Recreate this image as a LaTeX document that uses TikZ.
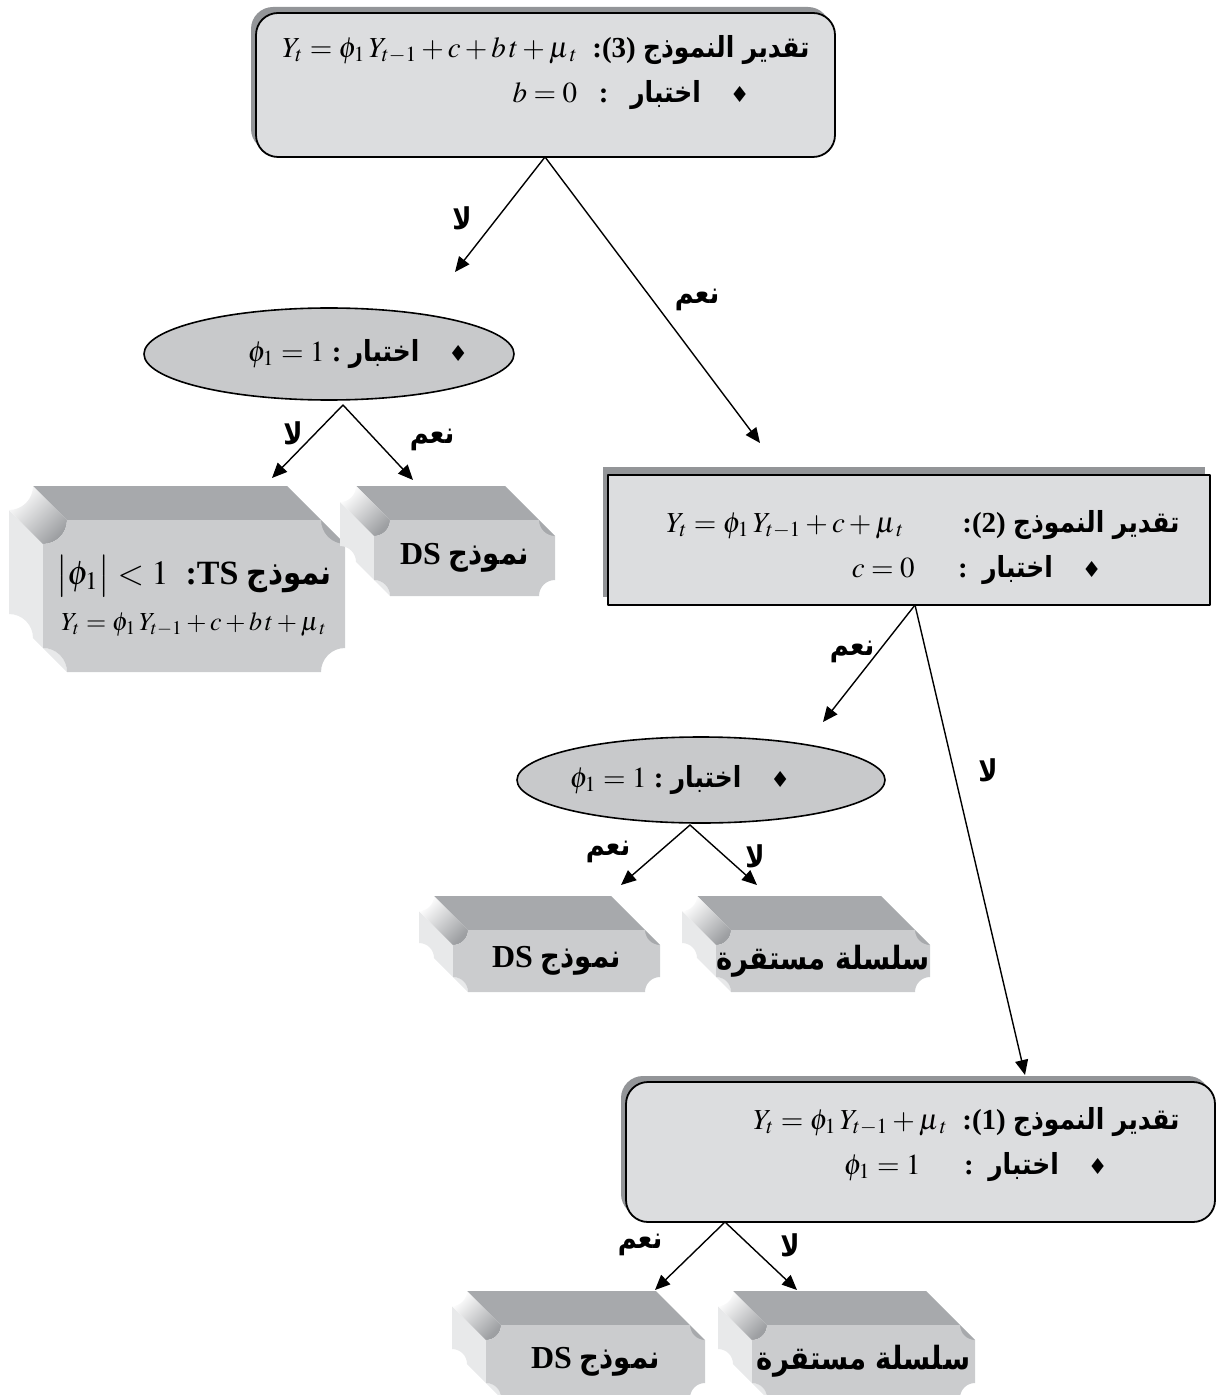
\documentclass[tikz,border=0pt]{standalone}
\usepackage{mathptmx}
\usepackage{fontspec}
\setmainfont{Liberation Serif}
\newfontfamily\arabicfont[Script=Arabic,FakeStretch=0.86]{DejaVu Sans}
\newfontfamily\symfont{DejaVu Sans}
\TeXXeTstate=1
\usetikzlibrary{arrows.meta}
\usetikzlibrary{shapes.geometric}
\usetikzlibrary{shadows}
\usetikzlibrary{positioning}

\definecolor{boxfill}{HTML}{DCDDDF}
\definecolor{shadowgray}{HTML}{939598}
\definecolor{ovalfill}{HTML}{C8C9CB}
\definecolor{topgray}{HTML}{A7A9AC}
\definecolor{sidegray}{HTML}{E8E9EA}
\definecolor{frontgray}{HTML}{CBCCCE}
\definecolor{cornerdark}{HTML}{9D9FA2}

\newcommand{\ar}[1]{{\arabicfont\bfseries\beginR #1\endR}}
\newcommand{\dia}{{\symfont\fontsize{11}{12}\selectfont ♦}}
\newcommand{\mut}{\mu_{\mkern3mu t}}

\tikzset{
  roundbox/.style={draw,line width=0.9pt,fill=boxfill,rounded corners=11pt,inner sep=0pt,
    drop shadow={shadow xshift=-2.5pt,shadow yshift=3pt,fill=shadowgray,opacity=1}},
  plainbox/.style={draw,line width=0.9pt,fill=boxfill,inner sep=0pt,
    drop shadow={shadow xshift=-2.5pt,shadow yshift=4pt,fill=shadowgray,opacity=1}},
  oval/.style={ellipse,draw,line width=0.8pt,fill=ovalfill,inner sep=0pt},
  txtline/.style={font=\fontsize{14.5}{17}\selectfont\bfseries,inner sep=0pt},
  boxlabel/.style={font=\fontsize{16}{19}\selectfont\bfseries,inner sep=0pt,align=center},
  armlabel/.style={font=\fontsize{15}{17}\selectfont,inner sep=0pt},
  arr/.style={line width=0.7pt,-{Triangle[length=7.5pt,width=6.5pt]}}
}

% extruded box with notched corners: name, L, T, R, B, notch, text
\newcommand{\bevelbox}[7]{%
  \def\dd{34}%
  \fill[topgray] ({#2-\dd+#6},{#3-\dd}) -- ({#4-\dd-#6},{#3-\dd}) -- ({#4},{#3+#6})
    -- ({#2+#6},{#3+#6}) -- ({#2+#6},{#3}) -- cycle;
  \fill[sidegray] ({#2-\dd},{#3-\dd+#6}) -- ({#2},{#3+#6}) -- ({#2},{#5-#6})
    arc[start angle=270,end angle=360,radius=#6] -- ({#2+#6-\dd},{#5-\dd})
    arc[start angle=0,end angle=-90,radius=#6] -- cycle;
  \shade[left color=white,right color=cornerdark,shading angle=45]
    ({#2-\dd+#6},{#3-\dd}) arc[start angle=0,end angle=90,radius=#6] -- ({#2},{#3+#6})
    arc[start angle=90,end angle=0,radius=#6] -- cycle;
  \fill[frontgray] ({#2+#6},{#3}) -- ({#4-#6},{#3}) arc[start angle=180,end angle=90,radius=#6]
    -- ({#4},{#5-#6}) arc[start angle=270,end angle=180,radius=#6]
    -- ({#2+#6},{#5}) arc[start angle=0,end angle=-90,radius=#6]
    -- ({#2},{#3+#6}) arc[start angle=90,end angle=0,radius=#6] -- cycle;
  \node[boxlabel] (#1) at ({(#2+#4)/2},{(#3+#5)/2}) {#7};
}

\begin{document}
\begin{tikzpicture}[x=0.5pt,y=-0.5pt,line cap=round,line join=round]
\useasboundingbox (0,0) rectangle (1220,1395);

% model 3
\node[roundbox,minimum width=289.5pt,minimum height=72pt] (est3) at (545.5,85) {};
\node[txtline,anchor=east] (est3a) at (810,50)
  {$Y_t=\phi_1\,Y_{t-1}+c+b\,t+\mut$\ \ :(3) \ar{تقدير النموذج}};
\node[txtline,anchor=east] (est3b) at (750,95)
  {$b=0$\ \ \ :\ \ \ \ar{اختبار}\quad\dia};

% first unit root test
\node[oval,minimum width=185pt,minimum height=46pt] (test1) at (329,354) {};
\node[txtline] (test1t) at (358,354) {$\phi_1=1$\ :\ \ar{اختبار}\quad\dia};

% result boxes of model 3
\bevelbox{ts}{43}{520}{345}{672}{24}{{\fontsize{17}{19}\selectfont$\bigl|\phi_1\bigr|<1$\ \ :TS \ar{نموذج}}\\[4pt]
  {\fontsize{13}{15}\selectfont\mdseries$Y_t=\phi_1\,Y_{t-1}+c+b\,t+\mut$}}
\bevelbox{ds1}{374}{520}{555}{596}{16}{DS \ar{نموذج}}

% model 2
\node[plainbox,minimum width=301pt,minimum height=65pt] (est2) at (909,540) {};
\node[txtline,anchor=east] (est2a) at (1180,525)
  {$Y_t=\phi_1\,Y_{t-1}+c+\mut$\qquad:(2) \ar{تقدير النموذج}};
\node[txtline,anchor=east] (est2b) at (1102,570)
  {$c=0$\quad\ \ :\ \ \ar{اختبار}\quad\dia};

% second unit root test
\node[oval,minimum width=184pt,minimum height=43pt] (test2) at (701,780) {};
\node[txtline] (test2t) at (680,780) {$\phi_1=1$\ :\ \ar{اختبار}\quad\dia};

\bevelbox{ds2}{453}{930}{660}{992}{15}{DS \ar{نموذج}}
\bevelbox{st2}{716}{930}{930}{992}{15}{\ar{سلسلة مستقرة}}

% model 1
\node[roundbox,minimum width=294.5pt,minimum height=70pt] (est1) at (920.5,1152) {};
\node[txtline,anchor=east] (est1a) at (1180,1122)
  {$Y_t=\phi_1\,Y_{t-1}+\mut$\ \ :(1) \ar{تقدير النموذج}};
\node[txtline,anchor=east] (est1b) at (1108,1167)
  {$\phi_1=1$\quad\ \ :\ \ \ar{اختبار}\quad\dia};

\bevelbox{ds3}{486}{1325}{705}{1398}{15}{DS \ar{نموذج}}
\bevelbox{st3}{752}{1325}{975}{1398}{15}{\ar{سلسلة مستقرة}}

% connectors
\coordinate (f3) at (545,157);
\coordinate (e3no) at (455,272);
\coordinate (e3yes) at (760,443);
\coordinate (f1) at (343,405);
\coordinate (e1no) at (272,478);
\coordinate (e1yes) at (413,480);
\coordinate (f2) at (915,605);
\coordinate (e2yes) at (823,722);
\coordinate (e2no) at (1025,1075);
\coordinate (f4) at (690,825);
\coordinate (e4yes) at (621,885);
\coordinate (e4no) at (757,885);
\coordinate (f5) at (725,1222);
\coordinate (e5yes) at (655,1290);
\coordinate (e5no) at (797,1290);

\draw[arr] (f3) -- (e3no);
\draw[arr] (f3) -- (e3yes);
\draw[arr] (f1) -- (e1no);
\draw[arr] (f1) -- (e1yes);
\draw[arr] (f2) -- (e2yes);
\draw[arr] (f2) -- (e2no);
\draw[arr] (f4) -- (e4yes);
\draw[arr] (f4) -- (e4no);
\draw[arr] (f5) -- (e5yes);
\draw[arr] (f5) -- (e5no);

\node[armlabel] (l3no) at (462,218) {\ar{لا}};
\node[armlabel] (l3yes) at (697,300) {\ar{نعم}};
\node[armlabel] (l1no) at (293,433) {\ar{لا}};
\node[armlabel] (l1yes) at (432,440) {\ar{نعم}};
\node[armlabel] (l2yes) at (852,652) {\ar{نعم}};
\node[armlabel] (l2no) at (988,770) {\ar{لا}};
\node[armlabel] (l4yes) at (608,852) {\ar{نعم}};
\node[armlabel] (l4no) at (755,856) {\ar{لا}};
\node[armlabel] (l5yes) at (640,1245) {\ar{نعم}};
\node[armlabel] (l5no) at (790,1245) {\ar{لا}};
\end{tikzpicture}
\end{document}
